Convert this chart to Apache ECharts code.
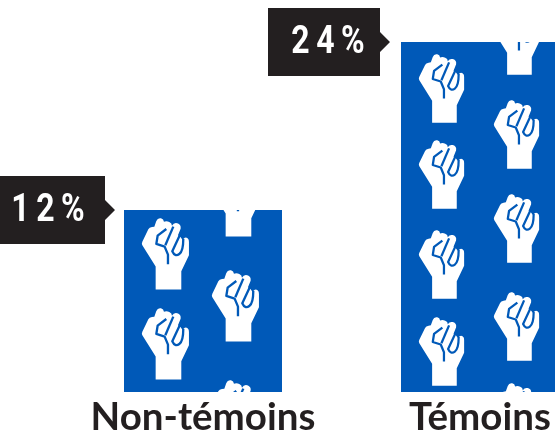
<!DOCTYPE html>
<html>
<head>
<meta charset="utf-8">
<style>html,body{margin:0;padding:0;background:#fff}#main{width:555px;height:431px}</style>
<script src="https://cdn.jsdelivr.net/npm/echarts@6/dist/echarts.min.js"></script>
</head>
<body>
<div id="main"></div>
<script>
var categories = ["Non-témoins", "Témoins"];
var values = [12, 24];
var valueLabels = ["1\u20092\u2009%", "2\u20094\u2009%"];

var BLUE = "#0059b8";
var INK = "#231f20";
var BAR_WIDTH = 158;
var CALLOUT_GAP = [9, 11];
var Y_MIN = -1;
var Y_MAX = 27;

// fist outline + the blue finger lines, drawn in a 141x215 box
var fistBody = "M41 215V146L1 82Q-2 77 1 71L19 34Q22 28 30 27L37 26L43 9Q47 -1 57 1Q65 3 66 11Q74 8 82 12Q90 15 90 23Q96 13 106 16Q118 20 116 32L108 52Q116 56 122 66Q128 56 136 60Q142 64 141 72V112L118 160V215Z";
var fistLines = [
  "M73 33L47 53L43 78L68 86L78 110V139",
  "M94 26L70 82",
  "M118 42L91 100Q99 118 112 108Q124 100 124 62"
];
// top-left corners of each fist [x, y, scale]
var fists = [
  [212, 165, 0.333], [142, 218, 0.333], [212, 270, 0.333], [142, 308, 0.333], [212, 380, 0.333],
  [494, 6, 0.32], [419, 54, 0.32], [494, 100, 0.32], [419, 140, 0.32], [494, 194, 0.32],
  [419, 230, 0.32], [494, 292, 0.32], [419, 317, 0.32], [494, 383, 0.32]
];

function makeBarPattern() {
  var c = document.createElement("canvas");
  c.width = 555;
  c.height = 431;
  var ctx = c.getContext("2d");
  ctx.fillStyle = BLUE;
  ctx.fillRect(0, 0, 555, 431);
  var body = new Path2D(fistBody);
  fists.forEach(function (f) {
    ctx.save();
    ctx.translate(f[0], f[1]);
    ctx.scale(f[2], f[2]);
    ctx.fillStyle = "#fff";
    ctx.fill(body);
    ctx.strokeStyle = BLUE;
    ctx.lineWidth = 7;
    ctx.lineJoin = "round";
    fistLines.forEach(function (d) {
      ctx.stroke(new Path2D(d));
    });
    ctx.restore();
  });
  return c;
}

var barPattern = { image: makeBarPattern(), repeat: "no-repeat" };

// bars start at the bottom of the axis, not at 0, so they are custom rects
function renderBar(params, api) {
  var i = params.dataIndex;
  var top = api.coord([i, api.value(1)]);
  var bottom = api.coord([i, Y_MIN]);
  return {
    type: "rect",
    shape: { x: top[0] - BAR_WIDTH / 2, y: top[1], width: BAR_WIDTH, height: bottom[1] - top[1] },
    style: { fill: barPattern }
  };
}

function renderCallout(params, api) {
  var i = params.dataIndex;
  var pt = api.coord([i, api.value(1)]);
  var tip = pt[0] - BAR_WIDTH / 2 - CALLOUT_GAP[i];
  var w = 112;
  var h = 68;
  var right = tip - 10;
  var y = pt[1];
  return {
    type: "group",
    children: [
      {
        type: "polygon",
        shape: {
          points: [
            [right - w, y - h / 2], [right, y - h / 2], [right, y - 10], [tip, y],
            [right, y + 10], [right, y + h / 2], [right - w, y + h / 2]
          ]
        },
        style: { fill: INK }
      },
      {
        type: "text",
        x: right - (i === 0 ? 57 : 52),
        y: y + 1,
        scaleX: 0.82,
        style: {
          text: valueLabels[i],
          fill: "#fff",
          font: "bold 39px Roboto",
          align: "center",
          verticalAlign: "middle"
        }
      }
    ]
  };
}

var points = categories.map(function (c, i) { return [i, values[i]]; });

var myChart = echarts.init(document.getElementById("main"), null, { renderer: "canvas" });
var option = {
  animation: false,
  grid: { left: 64.5, width: 554, top: 0, height: 392, outerBoundsMode: "none" },
  xAxis: {
    type: "category",
    data: categories,
    axisLine: { show: false },
    axisTick: { show: false },
    axisLabel: {
      interval: 0,
      color: INK,
      fontFamily: "Lato",
      fontWeight: 700,
      fontSize: 38.5,
      margin: 6
    }
  },
  yAxis: { type: "value", min: Y_MIN, max: Y_MAX, show: false },
  series: [
    { type: "custom", data: points, renderItem: renderBar, clip: false },
    { type: "custom", data: points, renderItem: renderCallout, clip: false, z: 5 }
  ]
};
myChart.setOption(option);
</script>
</body>
</html>
